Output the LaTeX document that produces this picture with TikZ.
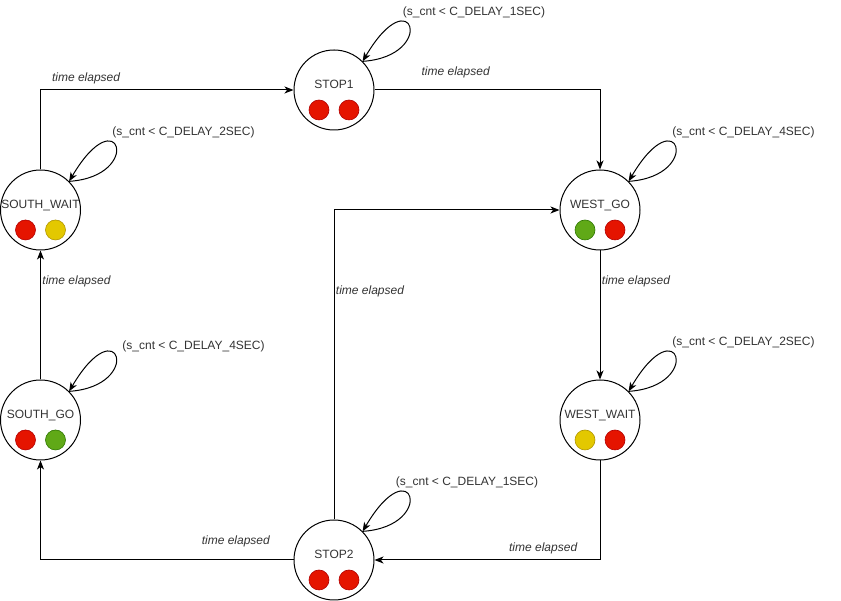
\documentclass[tikz,border=0pt]{standalone}
\usepackage{fontspec}
\setmainfont{Liberation Sans}
\usepackage{xcolor}
\usetikzlibrary{arrows.meta}
\definecolor{lampred}{HTML}{E51400}
\definecolor{lampredline}{HTML}{B20000}
\definecolor{lampyellow}{HTML}{E3C800}
\definecolor{lampyellowline}{HTML}{B09500}
\definecolor{lampgreen}{HTML}{60A917}
\definecolor{lampgreenline}{HTML}{2D7600}

\begin{document}
\begin{tikzpicture}[
    x=1pt, y=1pt,
    state/.style={draw, circle, line width=1pt, minimum size=80pt, inner sep=0pt},
    statename/.style={font=\fontsize{12}{14}\selectfont, text=black!80,
                      inner sep=0pt, text height=8.6pt, text depth=0pt},
    lamp/.style={circle, minimum size=20pt, inner sep=0pt, line width=0.6pt},
    redlamp/.style={lamp, fill=lampred, draw=lampredline},
    yellowlamp/.style={lamp, fill=lampyellow, draw=lampyellowline},
    greenlamp/.style={lamp, fill=lampgreen, draw=lampgreenline},
    arrow/.style={-{Stealth[length=9pt, width=7pt, inset=2.5pt]}, line width=1pt},
    lbl/.style={font=\fontsize{12}{14}\selectfont\itshape, text=black!80,
                inner sep=0pt, text height=8.6pt, text depth=2.5pt},
    looplbl/.style={font=\fontsize{12}{14}\selectfont, text=black!80,
                    inner sep=0pt, text height=8.6pt, text depth=2.5pt},
  ]
    \useasboundingbox (0,0) rectangle (841,601);

    % States
    \node[state] (stop1) at (334,511) {};
    \node[state] (westgo) at (600,391) {};
    \node[state] (westwait) at (600,181) {};
    \node[state] (stop2) at (334,41) {};
    \node[state] (southgo) at (40.5,181) {};
    \node[state] (southwait) at (40.5,391) {};

    % State names
    \node[statename] (stop1name) at ([yshift=6pt]stop1.center) {STOP1};
    \node[statename] (westgoname) at ([yshift=6pt]westgo.center) {WEST\_GO};
    \node[statename] (westwaitname) at ([yshift=6pt]westwait.center) {WEST\_WAIT};
    \node[statename] (stop2name) at ([yshift=6pt]stop2.center) {STOP2};
    \node[statename] (southgoname) at ([yshift=6pt]southgo.center) {SOUTH\_GO};
    \node[statename] (southwaitname) at ([yshift=6pt]southwait.center) {SOUTH\_WAIT};

    % Lamps (left: south, right: west)
    \node[redlamp] (stop1l) at ([shift={(-15,-20)}]stop1.center) {};
    \node[redlamp] (stop1r) at ([shift={(15,-20)}]stop1.center) {};
    \node[greenlamp] (westgol) at ([shift={(-15,-20)}]westgo.center) {};
    \node[redlamp] (westgor) at ([shift={(15,-20)}]westgo.center) {};
    \node[yellowlamp] (westwaitl) at ([shift={(-15,-20)}]westwait.center) {};
    \node[redlamp] (westwaitr) at ([shift={(15,-20)}]westwait.center) {};
    \node[redlamp] (stop2l) at ([shift={(-15,-20)}]stop2.center) {};
    \node[redlamp] (stop2r) at ([shift={(15,-20)}]stop2.center) {};
    \node[redlamp] (southgol) at ([shift={(-15,-20)}]southgo.center) {};
    \node[greenlamp] (southgor) at ([shift={(15,-20)}]southgo.center) {};
    \node[redlamp] (southwaitl) at ([shift={(-15,-20)}]southwait.center) {};
    \node[yellowlamp] (southwaitr) at ([shift={(15,-20)}]southwait.center) {};

    % Transitions
    \draw[arrow] (southwait.north) |- (stop1.west)
          node[lbl, pos=0.59, yshift=11.5pt] {time elapsed};
    \draw[arrow] (stop1.east) -| (westgo.north)
          node[lbl, pos=0.18, yshift=18pt] {time elapsed};
    \draw[arrow] (westgo.south) -- (westwait.north)
          node[lbl, pos=0.24, xshift=36pt] {time elapsed};
    \draw[arrow] (westwait.south) |- (stop2.east)
          node[lbl, pos=0.626, yshift=12pt] {time elapsed};
    \draw[arrow] (stop2.north) |- (westgo.west)
          node[lbl, pos=0.369, xshift=36pt] {time elapsed};
    \draw[arrow] (stop2.west) -| (southgo.south)
          node[lbl, pos=0.114, yshift=19pt] {time elapsed};
    \draw[arrow] (southgo.north) -- (southwait.south)
          node[lbl, pos=0.76, xshift=36pt] {time elapsed};

    % Self loops
    \draw[arrow] (stop1.45) .. controls +(75,5) and +(50,85) .. (stop1.45)
          node[looplbl, pos=0.5, xshift=64.5pt, yshift=15.5pt] {(s\_cnt < C\_DELAY\_1SEC)};
    \draw[arrow] (westgo.45) .. controls +(75,5) and +(50,85) .. (westgo.45)
          node[looplbl, pos=0.5, xshift=68pt, yshift=15.5pt] {(s\_cnt < C\_DELAY\_4SEC)};
    \draw[arrow] (westwait.45) .. controls +(75,5) and +(50,85) .. (westwait.45)
          node[looplbl, pos=0.5, xshift=68pt, yshift=15.5pt] {(s\_cnt < C\_DELAY\_2SEC)};
    \draw[arrow] (stop2.45) .. controls +(75,5) and +(50,85) .. (stop2.45)
          node[looplbl, pos=0.5, xshift=57.5pt, yshift=15.5pt] {(s\_cnt < C\_DELAY\_1SEC)};
    \draw[arrow] (southgo.45) .. controls +(75,5) and +(50,85) .. (southgo.45)
          node[looplbl, pos=0.5, xshift=77.5pt, yshift=11pt] {(s\_cnt < C\_DELAY\_4SEC)};
    \draw[arrow] (southwait.45) .. controls +(75,5) and +(50,85) .. (southwait.45)
          node[looplbl, pos=0.5, xshift=67.5pt, yshift=15.5pt] {(s\_cnt < C\_DELAY\_2SEC)};
  \end{tikzpicture}
\end{document}
